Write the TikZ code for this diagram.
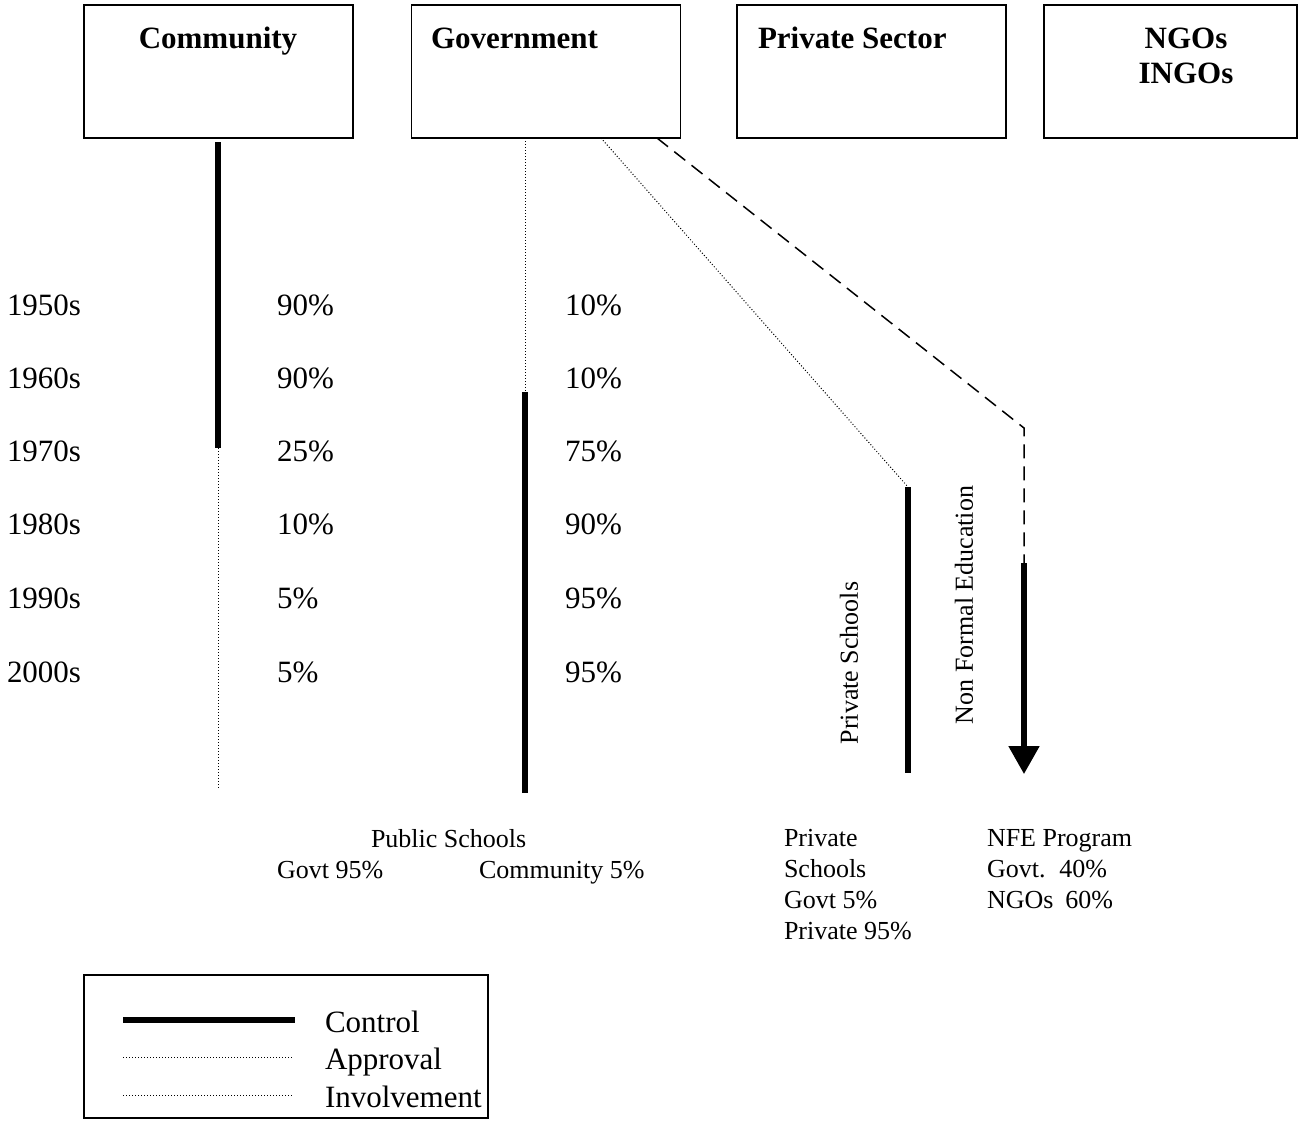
\documentclass[tikz,border=0pt]{standalone}
\usepackage{fontspec}
\setmainfont{Liberation Serif}
\usetikzlibrary{arrows.meta}
\begin{document}
\begin{tikzpicture}[x=0.5pt,y=-0.5pt,
  every node/.style={inner sep=0pt,outer sep=0pt},
  mainfont/.style={font=\fontsize{15.5pt}{18pt}\selectfont},
  smallfont/.style={font=\fontsize{13pt}{15.5pt}\selectfont},
  actor/.style={draw,line width=0.75pt,minimum width=134.5pt,minimum height=66.5pt},
  title/.style={font=\fontsize{15.5pt}{17.5pt}\selectfont\bfseries,align=center},
  control/.style={line width=2.6pt},
  approval/.style={line width=0.5pt,dash pattern=on 0.5pt off 1pt},
  involve/.style={line width=0.75pt,dash pattern=on 7pt off 4pt},
  lab/.style={mainfont,anchor=base west},
  blab/.style={smallfont,anchor=base west,align=left}
]
\useasboundingbox (0,0) rectangle (1298,1131);
% actor boxes
\node[actor] (comm) at (218.5,71.5) {};
\node[actor] (gov)  at (546,71.5) {};
\node[actor] (priv) at (871.5,71.5) {};
\node[actor,minimum width=126.5pt] (ngo) at (1170.5,71.5) {};
\node[title,anchor=base] (commT) at (218,48) {Community};
\node[title,anchor=base west] (govT) at (431,48) {Government};
\node[title,anchor=base west] (privT) at (758,48) {Private Sector};
\node[title,anchor=base] (ngoT) at (1186,48) {NGOs};
\node[title,anchor=base] (ingoT) at (1186,83) {INGOs};
% coordinates
\coordinate (c0) at (218,142);
\coordinate (c1) at (218,448);
\coordinate (c2) at (218,790);
\coordinate (g0) at (525,138);
\coordinate (g1) at (525,392);
\coordinate (g2) at (525,793);
\coordinate (p0) at (601,138);
\coordinate (p1) at (908,487);
\coordinate (p2) at (908,773);
\coordinate (n0) at (657,138);
\coordinate (n1) at (1024,428);
\coordinate (n2) at (1024,563);
\coordinate (n3) at (1024,774);
% connectors
\draw[control] (c0) -- (c1);
\draw[approval] (c1) -- (c2);
\draw[approval] (g0) -- (g1);
\draw[control] (g1) -- (g2);
\draw[approval] (p0) -- (p1);
\draw[control] (p1) -- (p2);
\draw[involve] (n0) -- (n1) -- (n2);
\draw[control,-{Triangle[length=14pt,width=15pt]}] (n2) -- (n3);
% decades and percentages
\foreach \y/\d/\a/\b in {315/1950s/90\%/10\%, 388/1960s/90\%/10\%, 461/1970s/25\%/75\%, 534/1980s/10\%/90\%, 608/1990s/5\%/95\%, 682/2000s/5\%/95\%}{
  \node[lab] at (7,\y) {\d};
  \node[lab] at (277,\y) {\a};
  \node[lab] at (565,\y) {\b};
}
% vertical labels
\node[smallfont,rotate=90] (ps) at (849,663) {Private Schools};
\node[smallfont,rotate=90] (nfe) at (964,605) {Non Formal Education};
% bottom labels
\node[blab] (pub) at (371,847) {Public Schools};
\node[blab] (pubg) at (277,878) {Govt 95\%};
\node[blab] (pubc) at (479,878) {Community 5\%};
\node[blab,anchor=north west] (pr) at (784,829) {Private\\Schools\\Govt 5\%\\Private 95\%};
\node[blab,anchor=north west] (nf) at (987,829) {NFE Program\\Govt.\hspace{7pt}40\%\\NGOs\hspace{6pt}60\%};
% legend
\node[draw,line width=0.75pt,minimum width=202pt,minimum height=71.5pt] (leg) at (286,1046.5) {};
\coordinate (l1a) at (123,1020);
\coordinate (l1b) at (295,1020);
\coordinate (l2a) at (123,1057);
\coordinate (l2b) at (292,1057);
\coordinate (l3a) at (123,1095);
\coordinate (l3b) at (292,1095);
\draw[line width=3pt] (l1a) -- (l1b);
\draw[approval] (l2a) -- (l2b);
\draw[approval] (l3a) -- (l3b);
\node[lab] (lc) at (325,1032) {Control};
\node[lab] (la) at (325,1069) {Approval};
\node[lab] (li) at (325,1107) {Involvement};
\end{tikzpicture}
\end{document}
